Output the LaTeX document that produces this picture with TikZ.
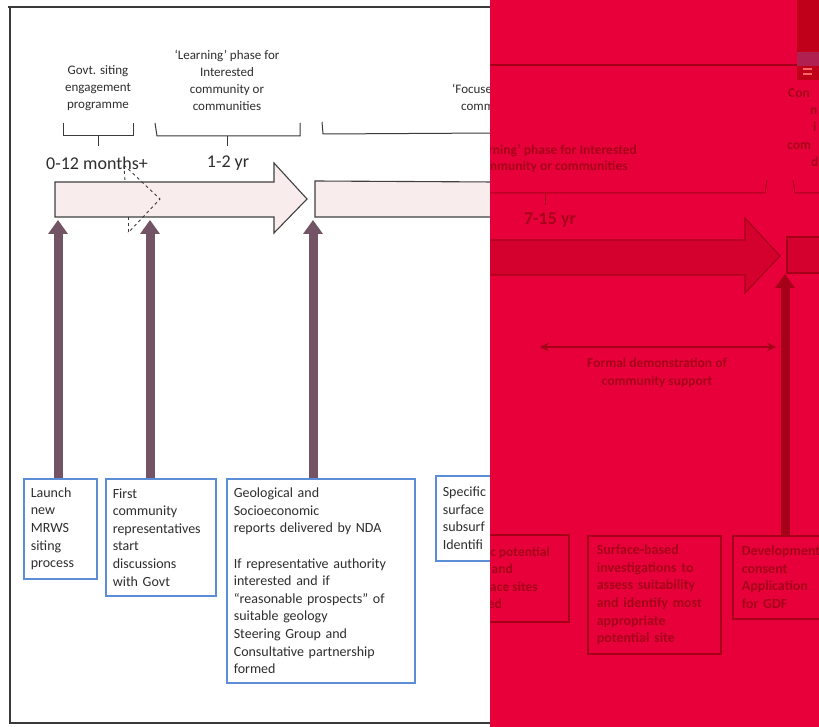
\documentclass[tikz,border=0pt]{standalone}
\usepackage{fontspec}
\setmainfont{Carlito}
\usetikzlibrary{arrows.meta}
\definecolor{framec}{HTML}{3A3A3A}
\definecolor{txt}{HTML}{2E2E2E}
\definecolor{bandfill}{HTML}{F8ECEC}
\definecolor{bandline}{HTML}{404040}
\definecolor{mauve}{HTML}{725464}
\definecolor{boxblue}{HTML}{5B8ED6}
\definecolor{redbg}{HTML}{E8003A}
\definecolor{reddark}{HTML}{A60019}
\definecolor{redband}{HTML}{D4002E}
\definecolor{redblock}{HTML}{C0001A}
\definecolor{redstripe}{HTML}{B02050}
\begin{document}
\begin{tikzpicture}[x=1pt,y=-1pt,
  hdr/.style={font=\fontsize{13}{17}\selectfont, text=txt, align=center, inner sep=0pt},
  tlabel/.style={font=\fontsize{18}{20}\selectfont, text=txt, inner sep=0pt},
  bbox/.style={draw=boxblue, line width=1.6pt, fill=white, align=left, anchor=north west,
    font=\fontsize{14}{17.6}\selectfont, text=txt, inner xsep=7pt, inner ysep=0pt},
  varrow/.style={mauve, line width=9pt, -{Triangle[width=19pt,length=14pt]}},
  brace/.style={framec, line width=1pt},
  band/.style={fill=bandfill, draw=bandline, line width=1.1pt},
  rtext/.style={text=reddark, inner sep=0pt, font=\fontsize{13.5}{17.5}\selectfont\bfseries},
  rbox/.style={draw=reddark, line width=1.6pt, align=left, anchor=north west,
    font=\fontsize{14}{17.6}\selectfont\bfseries, text=reddark, inner xsep=9pt, inner ysep=0pt},
  rarrow/.style={reddark, line width=9pt, -{Triangle[width=19pt,length=14pt]}}
]
\useasboundingbox (0,0) rectangle (819,727);
\fill[white] (0,0) rectangle (819,727);

% frame
\draw[framec, line width=2pt] (8,7) -- (495,7);
\draw[framec, line width=2pt] (10,6) -- (10,723);
\draw[framec, line width=2pt] (9,723) -- (495,723);

% headers
\node[hdr] (h1) at (98,88) {Govt. siting\\engagement\\programme};
\node[hdr] (h2) at (227,80) {`Learning' phase for\\Interested\\community or\\communities};
\node[hdr, anchor=base west] (h3a) at (452,94) {`Focused'};
\node[hdr, anchor=base west] (h3b) at (461,111) {community};

% braces
\draw[brace] (63,123) -- (63,136) -- (133,136) -- (133,123);
\draw[brace] (98,136) -- (98,146);
\draw[brace] (155,123) -- (157,136) -- (300,136) -- (300,123);
\draw[brace] (227,136) -- (227,146);
\draw[brace] (322,122) -- (323,134) -- (495,133);

% time labels
\node[tlabel] (t1) at (97,163) {0-12 months+};
\node[tlabel] (t2) at (228,163) {1-2 yr};

% main band arrow
\draw[band] (55,182) -- (274,182) -- (274,163) -- (307,199) -- (274,233) -- (274,217) -- (55,217) -- cycle;
\draw[framec, line width=0.9pt, dashed] (124,165) -- (160,199) -- (128,233);
\draw[framec, line width=0.9pt, dashed] (124,165) -- (125,182);
\draw[framec, line width=0.9pt, dashed] (128,217) -- (128,233);
% second band
\draw[band] (495,182) -- (315,181) -- (315,217) -- (495,217);

% boxes
\node[bbox, text width=59pt, minimum height=100pt] (b1) at (23,478) {Launch\\new\\MRWS\\siting\\process};
\node[bbox, text width=96pt, minimum height=117pt] (b2) at (105,478) {First\\community\\representatives\\start\\discussions\\with Govt};
\node[bbox, text width=174pt, minimum height=204pt] (b3) at (226,478) {Geological and\\Socioeconomic\\reports delivered by NDA\\[17.6pt]If representative authority\\interested and if\\``reasonable prospects'' of\\suitable geology\\Steering Group and\\Consultative partnership\\formed};
\node[bbox, text width=120pt, minimum height=85pt] (b4) at (435,475) {Specific\\surface\\subsurf\\Identifi};

% vertical arrows
\coordinate (p1) at (58,220);
\coordinate (p2) at (150,220);
\coordinate (p3) at (313,220);
\draw[varrow] (b1.north -| p1) -- (p1);
\draw[varrow] (b2.north -| p2) -- (p2);
\draw[varrow] (b3.north -| p3) -- (p3);

% ---------- red overlay ----------
\fill[redbg] (490,0) rectangle (819,727);
\begin{scope}
\clip (490,0) rectangle (819,727);
\fill[redblock] (797,0) rectangle (819,80);
\fill[redstripe] (797,52) rectangle (819,66);
\draw[red!60!white, line width=1.2pt] (803,69) -- (812,69) (803,74) -- (812,74);
\draw[reddark, line width=1.5pt] (490,65) -- (797,65);

\node[rtext, anchor=base east] (r1) at (637,155) {`Learning' phase for Interested};
\node[rtext, anchor=base east] (r2) at (628,171) {community or communities};

\draw[reddark, line width=1pt] (490,193) -- (765,193) -- (767,180);
\draw[reddark, line width=1pt] (545,193) -- (545,205);
\draw[reddark, line width=1pt] (793,180) -- (795,193) -- (819,193);
\node[rtext, font=\fontsize{18}{20}\selectfont\bfseries] (r3) at (550,220) {7-15 yr};

\node[rtext, anchor=base west] (c1) at (788,98) {Con};
\node[rtext, anchor=base west] (c2) at (810,115) {n};
\node[rtext, anchor=base west] (c3) at (813,132) {i};
\node[rtext, anchor=base west] (c4) at (787,150) {com};
\node[rtext, anchor=base west] (c5) at (811,167) {d};

\draw[fill=redband, draw=reddark, line width=1.1pt] (485,240) -- (745,240) -- (745,218) -- (780,256) -- (745,293) -- (745,275) -- (485,275);
\draw[fill=redband, draw=reddark, line width=1.1pt] (825,237) -- (787,237) -- (787,273) -- (825,273);

\coordinate (dl) at (540,347);
\coordinate (dr) at (776,347);
\draw[reddark, line width=1.4pt, {Stealth[length=9pt,width=9pt]}-{Stealth[length=9pt,width=9pt]}] (dl) -- (dr);
\node[rtext, align=center] (fd) at (657,373) {Formal demonstration of\\community support};

\node[rtext, anchor=base east] (a1) at (550,556) {c potential};
\node[rtext, anchor=base east] (a2) at (513,573) {and};
\node[rtext, anchor=base east] (a3) at (538,591) {ace sites};
\node[rtext, anchor=base east] (a4) at (502,608) {ed};
\draw[reddark, line width=1.6pt] (480,535) -- (569,535) -- (569,622) -- (480,622);

\node[rbox, text width=115pt, minimum height=118pt] (rb) at (587,535) {Surface-based\\investigations to\\assess suitability\\and identify most\\appropriate\\potential site};
\node[rbox, text width=100pt, minimum height=83pt] (rc) at (732,535) {Development\\consent\\Application\\for GDF};
\coordinate (pr) at (785,274);
\draw[rarrow] (rc.north -| pr) -- (pr);
\end{scope}
\end{tikzpicture}
\end{document}
